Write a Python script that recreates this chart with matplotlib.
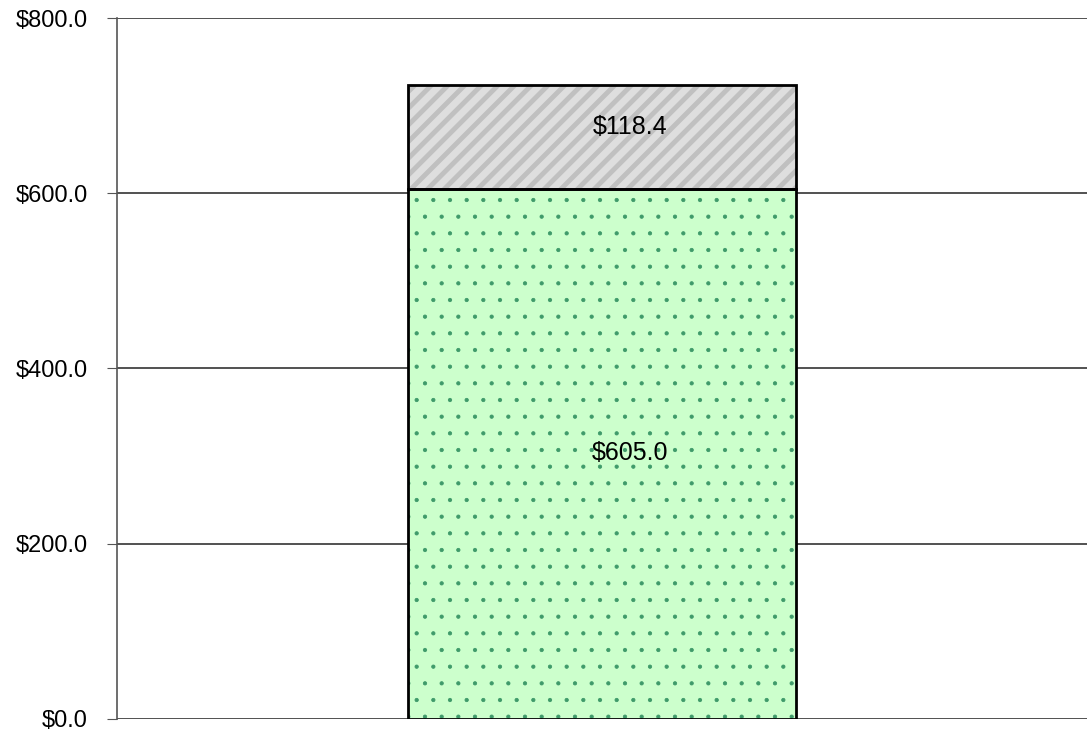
import matplotlib as mpl
import matplotlib.pyplot as plt
from matplotlib.ticker import FuncFormatter

plt.rcParams['font.family'] = ['Liberation Sans', 'DejaVu Sans']

categories = ['']
base_values = [605.0]
top_values = [118.4]
yticks = [0, 200, 400, 600, 800]

fig = plt.figure(figsize=(10.87, 7.35), dpi=100)
ax = fig.add_axes([0.1076, 0.0218, 0.8924, 0.9537])

x = range(len(categories))

# fills with pattern (hatch drawn in edge colour), outline drawn separately
with mpl.rc_context({'hatch.linewidth': 0.6}):
    ax.bar(x, base_values, width=0.4, color='#ccffcc', edgecolor='#3f9a6a',
           hatch='.', linewidth=0, zorder=3)
with mpl.rc_context({'hatch.linewidth': 3.5}):
    ax.bar(x, top_values, bottom=base_values, width=0.4, color='#dedede',
           edgecolor='#c0c0c0', hatch='//', linewidth=0, zorder=3)
ax.bar(x, base_values, width=0.4, fill=False, edgecolor='black', linewidth=2, zorder=4)
ax.bar(x, top_values, bottom=base_values, width=0.4, fill=False,
       edgecolor='black', linewidth=2, zorder=4)

for i in x:
    ax.annotate(f'${base_values[i]:.1f}', (i, base_values[i] / 2), xytext=(20, 1),
                textcoords='offset points', ha='center', va='center',
                fontsize=18, zorder=5)
    ax.annotate(f'${top_values[i]:.1f}', (i, base_values[i] + top_values[i] / 2),
                xytext=(20, 7), textcoords='offset points', ha='center', va='center',
                fontsize=18, zorder=5)

ax.set_xlim(-0.5, 0.5)
ax.set_ylim(0, 800)
ax.set_yticks(yticks)
ax.yaxis.set_major_formatter(FuncFormatter(lambda v, p: f'${v:.1f}'))
ax.set_xticks([])
ax.tick_params(axis='y', labelsize=17, length=7, color='#555555', pad=14)
ax.grid(axis='y', color='#333333', linewidth=1.2, zorder=1)
ax.set_axisbelow(True)
for s in ['top', 'right', 'bottom']:
    ax.spines[s].set_visible(False)
ax.spines['left'].set_color('#555555')
ax.spines['left'].set_linewidth(1.2)

fig.savefig('out.png', dpi=100)
